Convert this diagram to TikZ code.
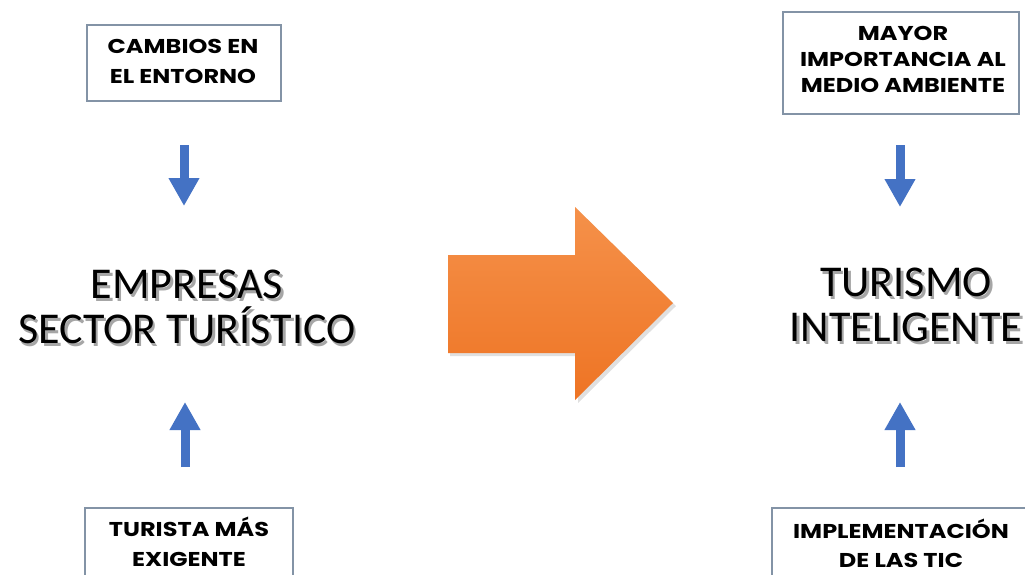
\documentclass[tikz,border=0pt]{standalone}
\usepackage{fontspec}
\setmainfont{Carlito}
\newfontfamily\boxfont{Poppins}[FakeStretch=1.2]
\usetikzlibrary{arrows.meta}
\definecolor{boxline}{HTML}{8393A6}
\definecolor{bluearrow}{HTML}{4472C4}
\definecolor{orangetop}{HTML}{F5914A}
\definecolor{orangebot}{HTML}{EE7424}
\tikzset{
  infobox/.style={draw=boxline, line width=1.4pt, fill=white, inner sep=0pt},
  boxtext/.style={align=center, inner sep=0pt, font=\boxfont\bfseries\fontsize{20}{28}\selectfont},
  bigtext/.style={align=center, inner sep=0pt, font=\fontsize{44}{45}\selectfont},
  bigshadow/.style={bigtext, text=black!35},
  blockarrow/.style={draw=bluearrow, line width=9pt, -{Triangle[width=29pt,length=28pt]}},
}
\begin{document}
\begin{tikzpicture}[x=1pt,y=-1pt]
\useasboundingbox (0,0) rectangle (1025,574);
\clip (0,0) rectangle (1025,574);
\fill[white] (0,0) rectangle (1025,574);

% top-left box
\node[infobox, minimum width=194pt, minimum height=76pt] (b1) at (184,63) {};
\node[boxtext, font=\boxfont\bfseries\fontsize{20}{30}\selectfont] (t1) at (183,61) {CAMBIOS EN\\EL ENTORNO};

% top-right box
\node[infobox, minimum width=236pt, minimum height=102pt] (b2) at (901,63) {};
\node[boxtext, font=\boxfont\bfseries\fontsize{20}{26}\selectfont] (t2) at (903,59) {MAYOR\\IMPORTANCIA AL\\MEDIO AMBIENTE};

% bottom-left box
\node[infobox, minimum width=208pt, minimum height=120pt] (b3) at (189,568) {};
\node[boxtext, font=\boxfont\bfseries\fontsize{20}{30}\selectfont] (t3) at (189,542) {TURISTA MÁS\\EXIGENTE};

% bottom-right box
\node[infobox, minimum width=270pt, minimum height=120pt] (b4) at (907,568) {};
\node[boxtext, font=\boxfont\bfseries\fontsize{20}{29}\selectfont] (t4) at (901,543) {IMPLEMENTACIÓN\\DE LAS TIC};

% big texts
\node[bigshadow] at (189.5,309.5) {EMPRESAS\\SECTOR TURÍSTICO};
\node[bigtext] (c1) at (187,307) {EMPRESAS\\SECTOR TURÍSTICO};
\node[bigshadow] at (908.5,307.5) {TURISMO\\INTELIGENTE};
\node[bigtext] (c2) at (906,305) {TURISMO\\INTELIGENTE};

% blue arrows
\coordinate (a1s) at (184,145); \coordinate (a1e) at (184,206);
\coordinate (a2s) at (185,467); \coordinate (a2e) at (185,402);
\coordinate (a3s) at (900,145); \coordinate (a3e) at (900,207);
\coordinate (a4s) at (900,467); \coordinate (a4e) at (900,402);
\draw[blockarrow] (a1s) -- (a1e);
\draw[blockarrow] (a2s) -- (a2e);
\draw[blockarrow] (a3s) -- (a3e);
\draw[blockarrow] (a4s) -- (a4e);

% orange arrow
\fill[black, opacity=0.12] (450,258) -- (578,258) -- (578,210) -- (676,306) -- (578,403) -- (578,356) -- (450,356) -- cycle;
\shade[top color=orangetop, bottom color=orangebot]
  (448,255) -- (575,255) -- (575,207) -- (673,303) -- (575,400) -- (575,353) -- (448,353) -- cycle;
\end{tikzpicture}
\end{document}
